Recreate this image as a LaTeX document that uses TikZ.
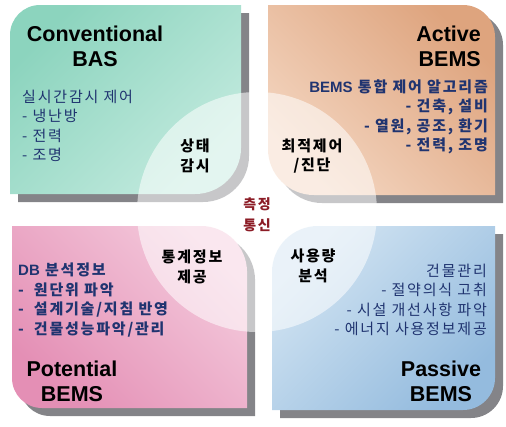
\documentclass[tikz,border=0pt]{standalone}
\usepackage{fontspec}
\setmainfont{Liberation Sans}
\newfontfamily\kr[LetterSpace=12]{Noto Sans CJK KR}
\usepackage{xcolor}
\definecolor{basgreen}{RGB}{140,212,190}
\definecolor{basgreenlt}{RGB}{194,234,222}
\definecolor{activetan}{RGB}{222,164,126}
\definecolor{activetanlt}{RGB}{244,214,193}
\definecolor{potpink}{RGB}{228,143,181}
\definecolor{potpinklt}{RGB}{244,202,220}
\definecolor{passblue}{RGB}{148,187,222}
\definecolor{passbluelt}{RGB}{210,228,242}
\definecolor{listnavy}{RGB}{32,52,112}
\definecolor{hubred}{RGB}{140,28,38}
\definecolor{dropgray}{RGB}{132,132,136}
\tikzset{
    dropshadow/.style={fill=dropgray, shift={(8,8)}},
    hub/.style={fill=white, fill opacity=0.55},
    title/.style={font=\bfseries\fontsize{21.5}{25}\selectfont, align=center, inner sep=0pt},
    items/.style={font=\kr\fontsize{15}{19.5}\selectfont, text=listnavy, inner sep=0pt},
    keyword/.style={font=\kr\bfseries\fontsize{15}{19.5}\selectfont, align=center, inner sep=0pt},
}
% petal with round top-left (#6) and bottom-right (#7) corners
\newcommand{\petalA}[7]{%
  \path[#1] (#2,{(#3+#5)/2}) [rounded corners=#6] -- (#2,#3) -- ({(#2+#4)/2},#3)
    [sharp corners] -- (#4,#3) -- (#4,{(#3+#5)/2})
    [rounded corners=#7] -- (#4,#5) -- ({(#2+#4)/2},#5)
    [sharp corners] -- (#2,#5) -- cycle;}
% petal with round top-right (#6) and bottom-left (#7) corners
\newcommand{\petalB}[7]{%
  \path[#1] ({(#2+#4)/2},#3) [rounded corners=#6] -- (#4,#3) -- (#4,{(#3+#5)/2})
    [sharp corners] -- (#4,#5) -- ({(#2+#4)/2},#5)
    [rounded corners=#7] -- (#2,#5) -- (#2,{(#3+#5)/2})
    [sharp corners] -- (#2,#3) -- cycle;}

\begin{document}
\begin{tikzpicture}[x=1pt, y=-1pt]
    \useasboundingbox (0,0) rectangle (506,426);
    % shadows
    \petalA{dropshadow}{10}{5}{241}{194}{30pt}{46pt}
    \petalB{dropshadow}{268}{5}{495}{195}{32pt}{46pt}
    \petalB{dropshadow}{12}{226}{247}{408}{46pt}{30pt}
    \petalA{dropshadow}{272}{226}{495}{410}{46pt}{32pt}
    % the four petals
    \petalA{top color=basgreen, bottom color=basgreenlt, shading angle=45}{10}{5}{241}{194}{30pt}{46pt}
    \petalB{top color=activetan, bottom color=activetanlt, shading angle=-45}{268}{5}{495}{195}{32pt}{46pt}
    \petalB{top color=potpinklt, bottom color=potpink, shading angle=-45}{12}{226}{247}{408}{46pt}{30pt}
    \petalA{top color=passbluelt, bottom color=passblue, shading angle=45}{272}{226}{495}{410}{46pt}{32pt}
    % centre disc
    \fill[hub] (257,212) circle [radius=120pt];

    \node[title] (basTitle) at (95,46) {Conventional\\BAS};
    \node[items, align=left, anchor=west] (basItems) at (22,126)
        {실시간감시 제어\\- 냉난방\\- 전력\\- 조명};
    \node[keyword] (basKey) at (195,156) {상태\\감시};

    \node[title, align=right, anchor=east] (activeTitle) at (481,46) {Active\\BEMS};
    \node[items, font=\kr\bfseries\fontsize{15}{19.5}\selectfont, align=right, anchor=east] (activeItems) at (488,117)
        {{\normalfont\bfseries BEMS} 통합 제어 알고리즘\\- 건축, 설비\\- 열원, 공조, 환기\\- 전력, 조명};
    \node[keyword] (activeKey) at (312,156) {최적제어\\/진단};

    \node[title] (potTitle) at (72,381) {Potential\\BEMS};
    \node[items, font=\kr\bfseries\fontsize{15}{19.5}\selectfont, align=left, anchor=west] (potItems) at (18,300)
        {{\normalfont\bfseries DB} 분석정보\\-\hspace{10pt}원단위 파악\\-\hspace{10pt}설계기술/지침 반영\\-\hspace{10pt}건물성능파악/관리};
    \node[keyword] (potKey) at (192,267) {통계정보\\제공};

    \node[title] (passTitle) at (441,381) {Passive\\BEMS};
    \node[items, align=right, anchor=east] (passItems) at (487,300)
        {건물관리\\- 절약의식 고취\\- 시설 개선사항 파악\\- 에너지 사용정보제공};
    \node[keyword] (passKey) at (313,266) {사용량\\분석};

    \node[keyword, text=hubred, font=\kr\bfseries\fontsize{14}{21}\selectfont] (hub) at (257,215) {측정\\통신};
\end{tikzpicture}
\end{document}
